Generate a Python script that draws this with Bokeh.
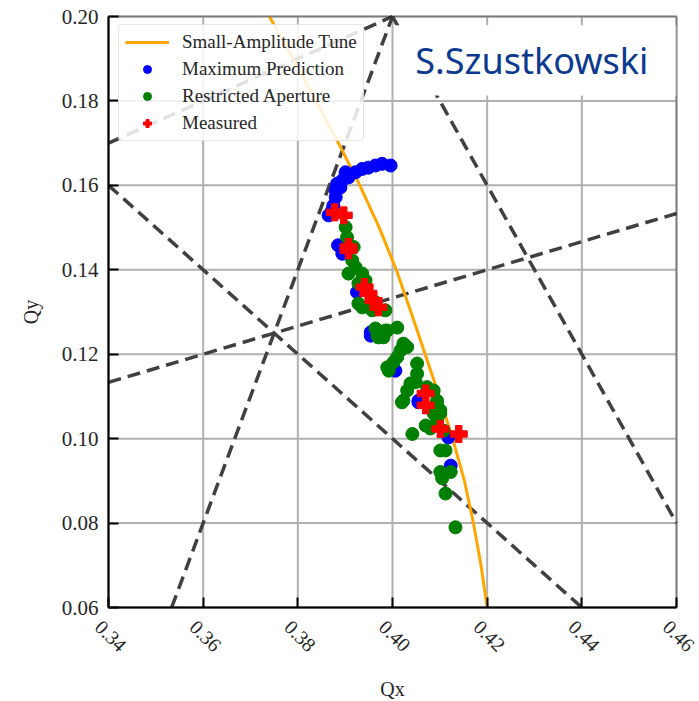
import math
from bokeh.plotting import figure
from bokeh.models import (ColumnDataSource, FixedTicker, Legend, LegendItem,
                          BoxAnnotation, Label, NumeralTickFormatter,
                          CustomJSTickFormatter, Range1d)
from bokeh.core.properties import value
from bokeh.embed import file_html
from bokeh.resources import INLINE

# ---------------- data ----------------
x_ticks = [0.34, 0.36, 0.38, 0.40, 0.42, 0.44, 0.46]
x_tick_labels = ["0.34", "0.36", "0.38", "0.40", "0.42", "0.44", "0.46"]
y_ticks = [0.06, 0.08, 0.10, 0.12, 0.14, 0.16, 0.18, 0.20]

# small-amplitude tune curve
tune_qy = [0.20, 0.19, 0.18, 0.17, 0.16, 0.15, 0.14, 0.13, 0.12, 0.11, 0.10, 0.09, 0.08, 0.07, 0.06]
tune_qx = [0.3740, 0.3790, 0.3838, 0.3886, 0.3931, 0.3972, 0.4008, 0.4039, 0.4069, 0.4099,
           0.4127, 0.4152, 0.4171, 0.4187, 0.4200]

# maximum prediction
max_qx = [0.3996, 0.3978, 0.3964, 0.3949, 0.3936, 0.3922, 0.3907, 0.3901, 0.3894, 0.3883,
          0.3880, 0.3880, 0.3875, 0.3865, 0.3885, 0.3894, 0.3925, 0.3954, 0.3954, 0.4006,
          0.4055, 0.4055, 0.4118, 0.4123, 0.3890, 0.3872]
max_qy = [0.1647, 0.1651, 0.1647, 0.1642, 0.1639, 0.1631, 0.1619, 0.1631, 0.1612, 0.1604,
          0.1588, 0.1572, 0.1552, 0.1529, 0.1458, 0.1438, 0.1347, 0.1252, 0.1244, 0.1161,
          0.1090, 0.1086, 0.1003, 0.0936, 0.1595, 0.1540]

# restricted aperture
ra_qx = [0.3901, 0.3904, 0.3918, 0.3915, 0.3922, 0.3907, 0.3936, 0.3943, 0.3928, 0.3936,
         0.3957, 0.3985, 0.3928, 0.3964, 0.3964, 0.3985, 0.4010, 0.3970, 0.3968, 0.3989,
         0.3981, 0.4023, 0.4031, 0.4017, 0.4010, 0.4002, 0.3989, 0.3992, 0.4052, 0.4052,
         0.4049, 0.4038, 0.4031, 0.4023, 0.4073, 0.4087, 0.4094, 0.4101, 0.4087, 0.4020,
         0.4094, 0.4101, 0.4094, 0.4070, 0.4080, 0.4108, 0.4042, 0.4101, 0.4112, 0.4101,
         0.4123, 0.4105, 0.4112, 0.4133]
ra_qy = [0.1501, 0.1477, 0.1454, 0.1422, 0.1406, 0.1391, 0.1391, 0.1375, 0.1368, 0.1311,
         0.1304, 0.1304, 0.1320, 0.1323, 0.1261, 0.1256, 0.1263, 0.1240, 0.1244, 0.1256,
         0.1240, 0.1225, 0.1217, 0.1209, 0.1193, 0.1181, 0.1169, 0.1161, 0.1178, 0.1154,
         0.1134, 0.1131, 0.1114, 0.1090, 0.1122, 0.1114, 0.1090, 0.1067, 0.1060, 0.1086,
         0.1083, 0.1060, 0.1043, 0.1031, 0.1024, 0.1019, 0.1011, 0.0972, 0.0972, 0.0921,
         0.0921, 0.0906, 0.0870, 0.0790]

# measured
meas_qx = [0.3878, 0.3897, 0.3907, 0.3907, 0.3941, 0.3949, 0.3960, 0.3970, 0.4070, 0.4070,
           0.4101, 0.4140]
meas_qy = [0.1536, 0.1529, 0.1454, 0.1446, 0.1359, 0.1344, 0.1327, 0.1311, 0.1107, 0.1079,
           0.1023, 0.1011]

# resonance lines: a*Qx + b*Qy = c
res_a = [3, 2, 1, 1, 1]
res_b = [-1, 1, 1, -3, -2]
res_c = [1.0, 1.0, 0.5, 0.0, 0.0]

# ---------------- layout constants ----------------
SERIF = "Liberation Serif"
TXT = "#262626"
X0, X1, Y0, Y1 = 0.34, 0.46, 0.06, 0.20
W, H = 699, 699
AX_L, AX_R, AX_T, AX_B = 108, 676, 16, 607      # axes box in canvas pixels
sx = (AX_R - AX_L) / (X1 - X0)
sy = (AX_B - AX_T) / (Y1 - Y0)
xr = Range1d(X0 - AX_L / sx, X1 + (W - AX_R) / sx)
yr = Range1d(Y0 - (H - AX_B) / sy, Y1 + AX_T / sy)

p = figure(width=W, height=H, x_range=xr, y_range=yr,
           output_backend="svg", toolbar_location=None,
           min_border=0, min_border_left=0, min_border_right=0,
           min_border_top=0, min_border_bottom=0,
           background_fill_color="white", border_fill_color="white")
p.outline_line_color = None
p.grid.visible = False

# axes pinned to the box
p.xaxis.fixed_location = Y0
p.yaxis.fixed_location = X0
p.xaxis.bounds = (X0, X1)
p.yaxis.bounds = (Y0, Y1)
p.xaxis.ticker = FixedTicker(ticks=x_ticks)
p.yaxis.ticker = FixedTicker(ticks=y_ticks)

for ax in (p.xaxis, p.yaxis):
    ax.axis_line_color = "black"
    ax.axis_line_width = 2
    ax.major_tick_line_color = "black"
    ax.major_tick_line_width = 2
    ax.major_tick_in = 10
    ax.major_tick_out = 0
    ax.minor_tick_line_color = None
    ax.major_label_text_font = SERIF
    ax.major_label_text_font_size = "21px"
    ax.major_label_text_color = TXT
    ax.axis_label_text_font = SERIF
    ax.axis_label_text_font_size = "20px"
    ax.axis_label_text_font_style = "normal"
    ax.axis_label_text_color = TXT

p.yaxis.formatter = NumeralTickFormatter(format="0.00")
p.yaxis.axis_label = "Qy"
p.yaxis.major_label_standoff = 10
p.yaxis.axis_label_standoff = 17
p.xaxis.formatter = CustomJSTickFormatter(code="return ''")
p.xaxis.major_label_standoff = 0
p.xaxis.axis_label = "Qx"
p.xaxis.axis_label_standoff = 70

# grid lines (inside the axes box)
p.segment(x0=x_ticks, y0=Y0, x1=x_ticks, y1=Y1, line_color="#b0b0b0", line_width=2)
p.segment(x0=X0, y0=y_ticks, x1=X1, y1=y_ticks, line_color="#b0b0b0", line_width=2)


def clip_line(a, b, c):
    pts = []
    for x in (X0, X1):
        y = (c - a * x) / b
        if Y0 - 1e-12 <= y <= Y1 + 1e-12:
            pts.append((x, y))
    for y in (Y0, Y1):
        x = (c - b * y) / a
        if X0 - 1e-12 <= x <= X1 + 1e-12:
            pts.append((x, y))
    pts.sort()
    return [pts[0][0], pts[-1][0]], [pts[0][1], pts[-1][1]]


# resonance lines
for a, b, c in zip(res_a, res_b, res_c):
    xs, ys = clip_line(a, b, c)
    p.line(xs, ys, line_color="#404040", line_width=3.5, line_dash="13 7")

tune_src = ColumnDataSource(dict(x=tune_qx, y=tune_qy))
max_src = ColumnDataSource(dict(x=max_qx, y=max_qy))
ra_src = ColumnDataSource(dict(x=ra_qx, y=ra_qy))
meas_src = ColumnDataSource(dict(x=meas_qx, y=meas_qy))

r_tune = p.line("x", "y", source=tune_src, line_color="#ffa500", line_width=3)
r_max = p.scatter("x", "y", source=max_src, marker="circle", size=13,
                  fill_color="#0000ff", line_color="#0000ff")
r_ra = p.scatter("x", "y", source=ra_src, marker="circle", size=13,
                 fill_color="#008000", line_color="#008000")
r_meas = p.scatter("x", "y", source=meas_src, marker="plus", size=17,
                   fill_color="#ff0000", line_color="#ff0000")

# rotated x tick labels, matplotlib style
tick_src = ColumnDataSource(dict(x=x_ticks, text=x_tick_labels))
p.text(x="x", y=Y0, text="text", source=tick_src, angle=-math.pi / 4,
       x_offset=-5, y_offset=11, text_align="left", text_baseline="top",
       text_font=value(SERIF), text_font_size="20px", text_color=TXT)

# watermark box
box = BoxAnnotation(left=0.4006, right=X1, bottom=0.1813, top=0.1979,
                    fill_color="white", fill_alpha=1.0, line_color=None)
p.add_layout(box)
lab = Label(x=0.4006, y=0.1896, x_offset=20, text="S.Szustkowski",
            text_baseline="middle", text_align="left",
            text_font="Noto Sans", text_font_size="36px", text_color="#0b3a8f")
p.add_layout(lab)

# axes frame
frame = BoxAnnotation(left=X0, right=X1, bottom=Y0, top=Y1,
                      fill_alpha=0, line_color="black", line_width=2)
p.add_layout(frame)

legend = Legend(items=[
    LegendItem(label="Small-Amplitude Tune", renderers=[r_tune]),
    LegendItem(label="Maximum Prediction", renderers=[r_max]),
    LegendItem(label="Restricted Aperture", renderers=[r_ra]),
    LegendItem(label="Measured", renderers=[r_meas]),
], location=(118, H - 141))
legend.margin = 0
legend.padding = 6
legend.spacing = 5
legend.glyph_width = 44
legend.glyph_height = 20
legend.label_height = 20
legend.label_standoff = 13
legend.label_text_font = SERIF
legend.label_text_font_size = "19px"
legend.label_text_color = TXT
legend.border_line_color = "#cccccc"
legend.border_line_width = 1
legend.background_fill_alpha = 0.85
legend.border_radius = 4
p.add_layout(legend)

open("out.html", "w").write(file_html(p, INLINE))
